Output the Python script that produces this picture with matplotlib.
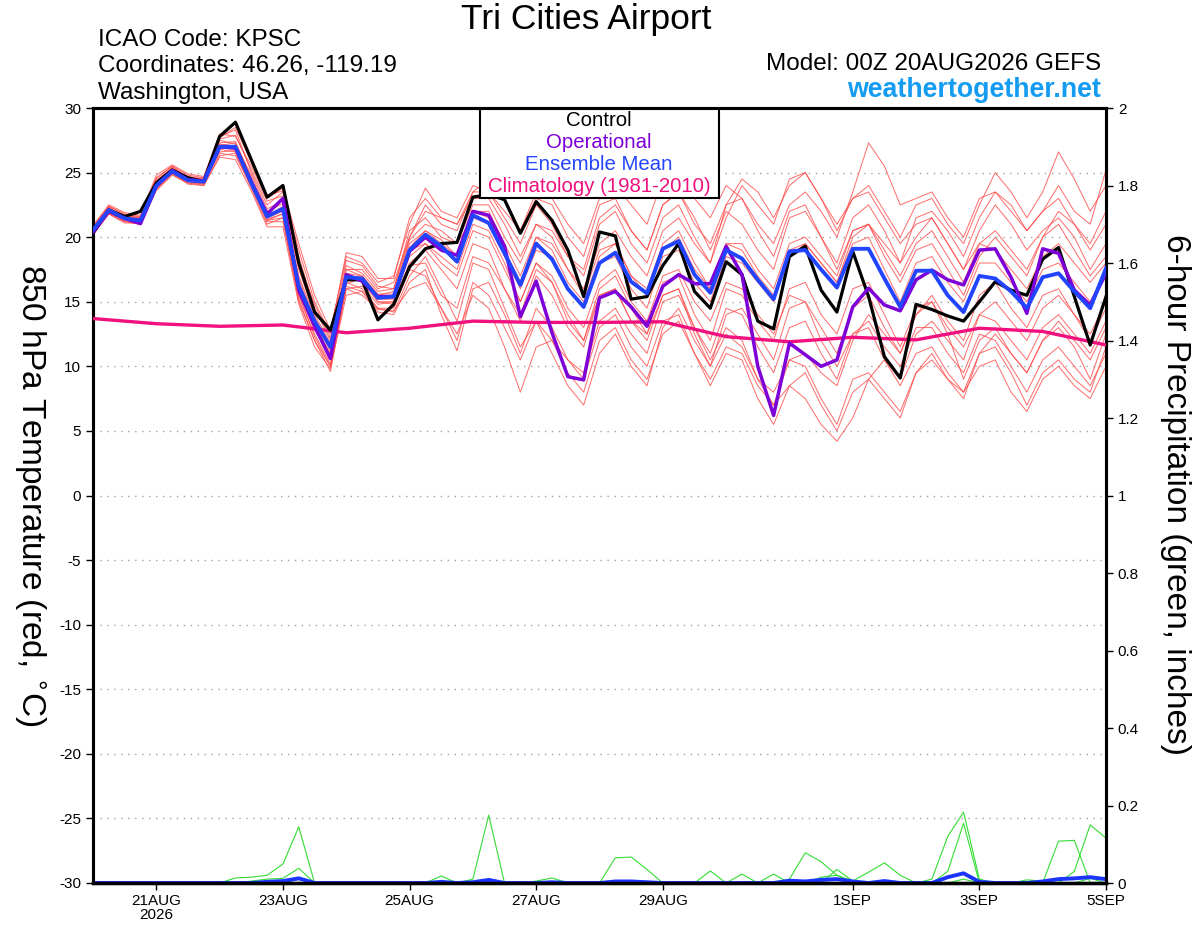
import numpy as np
import pandas as pd
import matplotlib
matplotlib.use("Agg")
import matplotlib.pyplot as plt
import matplotlib.dates as mdates
from matplotlib.patches import Rectangle

plt.rcParams['font.family'] = ['Liberation Sans', 'DejaVu Sans']

# ---------------- data ----------------
times = pd.date_range('2026-08-20 00:00', periods=65, freq='6h')
clim_times = pd.date_range('2026-08-20 00:00', periods=17, freq='1D')

control = [20.3, 22.1, 21.6, 22.0, 24.2, 25.2, 24.6, 24.3, 27.8, 28.9, 26.0, 23.1, 24.0,
           18.0, 14.2, 12.8, 16.7, 16.7, 13.6, 14.8, 17.7, 19.1, 19.5, 19.6, 23.1,
           23.3, 22.9, 20.3, 22.75, 21.3, 19.0, 15.4, 20.4, 20.1, 15.2, 15.4, 17.8,
           19.5, 15.8, 14.5, 18.1, 17.1, 13.5, 12.9, 18.5, 19.3, 15.9, 14.2, 18.9,
           15.4, 10.75, 9.1, 14.8, 14.4, 13.9, 13.5, 15.0, 16.55, 15.9, 15.5, 18.3,
           19.2, 15.4, 11.65, 15.4]

ens_mean = [20.55, 22.1, 21.45, 21.3, 24.0, 25.1, 24.4, 24.3, 27.0, 27.0, 24.2, 21.6, 22.2,
            16.2, 13.5, 11.5, 16.9, 16.8, 15.3, 15.4, 19.0, 20.2, 19.3, 18.1, 21.7,
            21.1, 18.75, 16.3, 19.5, 18.3, 16.0, 14.6, 18.0, 18.8, 16.55, 15.65, 19.1,
            19.7, 17.1, 15.7, 19.0, 18.35, 16.7, 15.2, 18.9, 19.0, 17.5, 16.1, 19.1,
            19.1, 16.8, 14.6, 17.4, 17.4, 15.5, 14.2, 17.0, 16.8, 15.8, 14.5, 16.9,
            17.2, 15.8, 14.5, 17.6]

operational = [20.4, 22.0, 21.45, 21.05, 23.95, 25.15, 24.45, 24.35, 27.0, 26.9, 24.3, 21.8, 23.0,
               15.9, 13.1, 10.6, 17.1, 16.6, 15.4, 15.4, 18.9, 20.0, 19.0, 18.6, 22.0,
               21.7, 19.3, 13.85, 16.6, 12.6, 9.2, 8.95, 15.3, 15.8, 14.6, 13.1, 16.2,
               17.1, 16.4, 16.4, 19.3, 17.1, 10.0, 6.2, 11.8, 10.9, 10.0, 10.5, 14.6,
               16.05, 14.75, 14.3, 16.7, 17.45, 16.7, 16.3, 19.0, 19.1, 16.9, 14.1, 19.1,
               18.75, 15.9, 14.75, 17.2]

climatology = [13.7, 13.3, 13.1, 13.2, 12.6, 12.95, 13.5, 13.4, 13.4, 13.45, 12.3, 11.9,
               12.25, 12.05, 12.95, 12.7, 11.65]

members = [
    [20.8, 22.4, 21.8, 21.6, 24.5, 25.5, 24.6, 24.5, 27.8, 28.3, 25.0, 22.5, 23.5,
     18.5, 14.5, 12.0, 17.5, 17.5, 16.0, 16.5, 20.0, 22.5, 21.0, 20.5, 23.5,
     24.5, 23.0, 20.5, 23.0, 22.5, 20.0, 18.5, 22.5, 23.0, 20.5, 19.0, 22.5, 23.5, 21.0, 19.5,
     22.5, 23.0, 21.0, 19.5, 22.5, 23.5, 22.0, 20.0, 23.5, 27.3, 25.5, 22.5, 23.0, 23.5, 21.5,
     20.0, 23.0, 23.5, 22.0, 20.5, 22.0, 24.0, 22.0, 21.0, 25.2],
    [20.2, 21.8, 21.2, 21.0, 23.6, 24.8, 24.2, 24.0, 26.3, 26.5, 23.8, 21.0, 21.5,
     15.0, 12.0, 10.0, 16.5, 16.0, 14.5, 14.5, 17.5, 17.0, 14.5, 12.0, 16.5,
     15.5, 13.0, 10.5, 13.5, 12.0, 9.5, 8.0, 12.0, 13.0, 10.5, 9.0, 12.5, 13.5, 11.0, 9.0,
     11.5, 11.0, 8.5, 7.0, 10.5, 10.0, 7.5, 5.5, 9.0, 9.5, 8.0, 6.5, 9.5, 10.5, 9.0,
     8.0, 11.0, 11.5, 9.5, 7.0, 9.5, 10.5, 9.0, 8.0, 11.5],
    [20.6, 22.2, 21.5, 21.4, 24.2, 25.3, 24.6, 24.4, 27.3, 27.4, 24.6, 21.8, 22.0,
     16.5, 13.0, 10.5, 17.0, 16.5, 15.0, 15.0, 19.0, 19.5, 18.5, 17.5, 21.0,
     20.5, 18.0, 15.0, 18.0, 16.5, 14.0, 12.0, 15.5, 16.0, 13.5, 12.0, 15.5, 16.0, 13.0, 10.5,
     13.0, 12.0, 9.0, 7.0, 8.5, 7.5, 5.5, 4.2, 6.0, 9.0, 10.5, 9.0, 12.5, 13.5, 12.0,
     10.5, 14.0, 15.0, 13.5, 12.0, 14.5, 15.5, 14.0, 12.5, 15.0],
    [20.9, 22.5, 21.9, 21.7, 24.8, 25.6, 24.9, 24.7, 28.0, 27.8, 25.5, 23.0, 23.8,
     19.5, 15.5, 12.8, 18.5, 18.0, 16.5, 17.0, 21.0, 23.8, 22.0, 21.5, 24.0,
     23.5, 21.5, 19.5, 22.5, 21.0, 18.5, 17.0, 21.0, 22.0, 19.5, 18.0, 21.5, 22.5, 20.0, 18.0,
     21.5, 24.0, 22.5, 21.0, 24.5, 25.0, 23.0, 21.0, 23.0, 24.0, 22.0, 20.0, 22.5, 23.0, 21.0,
     19.5, 22.5, 25.0, 23.5, 21.5, 23.5, 26.6, 24.5, 22.0, 24.0],
    [20.4, 21.9, 21.3, 21.1, 23.8, 25.0, 24.3, 24.1, 26.8, 26.6, 24.0, 21.3, 21.8,
     15.5, 12.5, 10.2, 16.0, 16.2, 14.8, 15.0, 18.0, 19.0, 17.5, 16.0, 19.5,
     19.0, 16.0, 13.5, 17.0, 15.5, 13.0, 11.5, 15.5, 16.0, 13.5, 12.5, 16.5, 17.0, 14.0, 12.0,
     16.0, 15.5, 13.5, 12.0, 16.0, 16.5, 14.0, 12.5, 16.0, 16.5, 14.0, 11.5, 14.5, 15.0, 13.0,
     11.5, 14.0, 13.5, 12.0, 10.5, 13.0, 14.0, 12.5, 11.0, 13.5],
    [20.7, 22.3, 21.6, 21.5, 24.3, 25.4, 24.5, 24.6, 27.5, 27.2, 24.8, 22.2, 22.8,
     17.5, 14.0, 11.8, 17.8, 17.2, 15.8, 16.0, 20.5, 21.5, 20.0, 19.5, 22.5,
     22.5, 20.0, 18.0, 21.0, 20.5, 18.5, 17.5, 21.5, 22.5, 20.5, 19.0, 22.5, 23.5, 21.5, 19.0,
     22.0, 21.0, 19.0, 17.5, 21.5, 22.0, 20.0, 18.0, 21.5, 22.5, 20.5, 18.0, 20.0, 21.5, 19.5,
     17.5, 20.5, 22.5, 21.0, 19.0, 20.5, 21.5, 20.0, 17.5, 19.5],
    [20.3, 22.0, 21.4, 21.2, 23.9, 25.0, 24.4, 24.2, 26.5, 26.3, 23.9, 21.2, 21.2,
     15.2, 12.0, 9.6, 16.2, 15.8, 14.5, 14.2, 17.0, 18.5, 16.0, 13.5, 18.0,
     17.5, 14.5, 11.5, 13.5, 11.0, 8.5, 7.0, 11.0, 12.5, 10.0, 8.5, 13.0, 14.5, 12.0, 10.0,
     14.0, 14.5, 12.5, 10.5, 14.5, 15.0, 13.0, 11.0, 14.5, 15.5, 13.0, 11.0, 14.0, 15.0, 12.5,
     9.0, 12.0, 13.0, 11.0, 9.5, 12.0, 13.0, 11.5, 9.0, 12.5],
    [20.5, 22.1, 21.5, 21.3, 24.1, 25.2, 24.4, 24.3, 27.2, 27.0, 24.3, 21.7, 22.3,
     16.8, 13.5, 11.2, 17.2, 17.0, 15.5, 15.8, 19.5, 20.5, 19.5, 18.5, 22.0,
     21.5, 19.0, 16.5, 20.0, 19.5, 17.5, 16.0, 19.5, 20.5, 18.5, 17.0, 20.5, 21.5, 19.5, 18.0,
     22.5, 24.5, 23.5, 21.5, 24.0, 25.0, 23.0, 20.5, 23.0, 23.5, 21.5, 19.5, 21.0, 21.5, 19.5,
     17.5, 19.5, 19.0, 17.5, 16.0, 18.5, 19.5, 18.0, 16.5, 18.0],
    [20.6, 22.0, 21.3, 21.2, 24.0, 25.1, 24.5, 24.4, 27.0, 27.1, 24.2, 21.5, 22.0,
     16.0, 13.2, 11.0, 16.8, 16.6, 15.2, 15.2, 18.5, 19.5, 18.0, 17.0, 20.5,
     20.0, 17.5, 15.0, 18.0, 17.0, 14.5, 13.0, 16.5, 17.5, 15.0, 13.5, 17.0, 17.5, 15.0, 13.5,
     16.5, 16.0, 14.0, 12.5, 15.5, 15.0, 12.0, 10.0, 12.5, 13.0, 10.5, 8.5, 11.0, 11.5, 9.5,
     8.0, 10.0, 10.5, 8.0, 6.5, 9.0, 10.0, 8.5, 7.5, 10.0],
    [20.4, 22.2, 21.7, 21.5, 24.4, 25.3, 24.7, 24.5, 27.6, 27.9, 25.2, 22.8, 23.2,
     18.0, 14.8, 12.2, 18.2, 17.8, 16.2, 16.0, 20.0, 22.0, 21.5, 21.0, 23.0,
     23.0, 21.0, 18.5, 21.0, 20.0, 17.5, 15.5, 19.0, 19.5, 17.0, 15.5, 19.0, 20.0, 17.5, 16.0,
     19.5, 19.5, 17.5, 16.0, 19.5, 20.0, 18.5, 17.0, 20.5, 21.0, 19.0, 17.0, 19.5, 20.5, 18.5,
     16.5, 19.5, 20.5, 19.0, 17.5, 20.0, 21.0, 19.0, 17.0, 18.5],
    [20.8, 22.3, 21.4, 21.3, 24.2, 25.0, 24.2, 24.1, 26.9, 26.8, 24.0, 21.4, 21.8,
     15.8, 12.8, 10.8, 16.4, 16.8, 15.0, 14.8, 17.8, 18.0, 15.5, 14.5, 18.5,
     18.0, 16.0, 14.0, 17.5, 16.5, 13.5, 12.0, 16.0, 17.0, 14.5, 12.5, 15.5, 16.0, 12.5, 10.0,
     12.5, 11.5, 9.0, 8.0, 10.5, 11.0, 9.5, 8.5, 12.0, 14.0, 12.5, 11.0, 14.0, 15.5, 13.5,
     12.0, 15.5, 16.5, 14.5, 13.0, 15.5, 16.0, 14.0, 12.0, 14.5],
    [20.5, 22.0, 21.6, 21.4, 24.2, 25.2, 24.3, 24.2, 27.1, 27.3, 24.5, 22.0, 22.6,
     17.0, 13.8, 11.5, 17.5, 17.0, 15.6, 15.6, 19.8, 21.0, 20.5, 19.5, 21.5,
     21.0, 18.5, 16.0, 19.0, 18.5, 16.0, 14.5, 18.0, 18.5, 16.0, 14.5, 18.5, 19.0, 16.5, 15.0,
     18.5, 18.0, 16.5, 15.0, 18.5, 19.5, 18.0, 16.5, 20.0, 21.0, 19.5, 18.0, 21.5, 22.0, 20.5,
     18.5, 21.5, 23.5, 22.5, 20.5, 22.0, 23.0, 21.0, 19.0, 21.0],
    [20.2, 21.9, 21.2, 21.0, 23.7, 24.9, 24.1, 24.0, 26.2, 26.0, 23.6, 20.8, 20.8,
     14.8, 11.5, 9.8, 15.5, 15.8, 14.2, 14.0, 16.5, 17.5, 14.0, 11.2, 16.0,
     16.5, 14.0, 11.0, 14.5, 13.0, 10.5, 9.0, 13.0, 14.0, 11.5, 10.0, 13.5, 14.0, 11.0, 8.5,
     11.0, 10.5, 7.5, 5.5, 8.5, 9.5, 7.0, 5.0, 8.0, 9.0, 7.5, 6.0, 9.5, 11.0, 9.0,
     7.5, 11.0, 12.5, 11.0, 9.5, 12.0, 13.5, 12.0, 10.5, 13.0],
    [20.6, 22.2, 21.5, 21.4, 24.1, 25.1, 24.5, 24.3, 26.9, 27.0, 24.1, 21.6, 22.4,
     16.5, 13.5, 11.4, 16.9, 16.9, 15.3, 15.5, 19.2, 20.5, 19.8, 18.5, 22.0,
     22.0, 19.5, 17.0, 20.0, 19.0, 16.5, 15.0, 18.5, 19.5, 17.0, 16.0, 19.5, 20.5, 18.0, 16.0,
     19.5, 19.0, 17.0, 15.5, 19.0, 19.5, 18.0, 16.5, 19.5, 20.0, 17.5, 15.0, 18.0, 18.5, 16.5,
     15.0, 18.0, 18.0, 16.5, 15.0, 17.5, 18.0, 16.5, 15.0, 17.5],
    [20.7, 22.4, 21.7, 21.6, 24.6, 25.5, 24.8, 24.6, 27.7, 28.5, 25.8, 23.2, 23.6,
     19.0, 15.0, 12.5, 18.8, 18.5, 16.8, 16.8, 21.5, 23.0, 21.5, 21.0, 23.5,
     23.5, 22.0, 20.5, 23.5, 23.0, 21.0, 19.5, 23.0, 24.0, 22.5, 21.0, 24.5, 25.0, 23.0, 21.5,
     24.0, 23.0, 20.5, 18.5, 22.0, 22.5, 20.0, 17.5, 20.5, 21.0, 18.5, 16.5, 19.0, 19.5, 17.5,
     15.5, 18.5, 20.0, 18.5, 17.0, 20.0, 22.0, 21.0, 19.5, 22.0],
    [20.3, 21.8, 21.1, 21.1, 23.8, 24.9, 24.3, 24.2, 26.6, 26.7, 24.1, 21.3, 21.5,
     15.5, 12.3, 10.0, 16.0, 15.5, 14.4, 14.3, 16.0, 16.5, 14.5, 12.5, 15.5,
     14.5, 11.5, 8.0, 11.5, 12.0, 10.5, 9.5, 13.5, 14.5, 12.5, 11.0, 15.0, 15.5, 13.0, 11.0,
     14.5, 14.0, 11.5, 9.5, 13.0, 13.5, 11.0, 9.0, 12.5, 13.5, 11.5, 10.0, 13.0, 13.0, 11.0,
     9.5, 12.5, 12.0, 10.0, 8.0, 10.5, 11.5, 10.0, 8.5, 11.0],
]

# 6-hour precipitation (inches), members (green)
precip_members = [
    [0, 0, 0, 0, 0, 0, 0, 0, 0, 0.013, 0.015, 0.02, 0.049, 0.145, 0, 0, 0, 0, 0, 0,
     0, 0, 0, 0, 0.01, 0.175, 0, 0, 0, 0, 0, 0, 0, 0, 0, 0, 0, 0, 0, 0,
     0, 0, 0, 0, 0, 0, 0, 0, 0, 0, 0, 0, 0, 0, 0, 0, 0, 0, 0, 0, 0, 0, 0, 0, 0],
    [0, 0, 0, 0, 0, 0, 0, 0, 0, 0, 0.005, 0.01, 0.012, 0.038, 0, 0, 0, 0, 0, 0,
     0, 0, 0.018, 0, 0, 0, 0, 0, 0.005, 0.013, 0, 0, 0, 0, 0, 0, 0, 0, 0, 0,
     0, 0, 0, 0, 0, 0, 0, 0, 0, 0, 0, 0, 0, 0, 0, 0, 0, 0, 0, 0, 0, 0, 0, 0, 0],
    [0, 0, 0, 0, 0, 0, 0, 0, 0, 0, 0, 0, 0, 0, 0, 0, 0, 0, 0, 0,
     0, 0, 0, 0, 0, 0, 0, 0, 0, 0, 0, 0, 0, 0.065, 0.067, 0.035, 0, 0, 0, 0,
     0, 0, 0, 0, 0.01, 0.078, 0.055, 0.02, 0, 0, 0, 0, 0, 0, 0, 0, 0, 0, 0, 0, 0, 0, 0, 0, 0],
    [0, 0, 0, 0, 0, 0, 0, 0, 0, 0, 0, 0, 0, 0, 0, 0, 0, 0, 0, 0,
     0, 0, 0, 0, 0, 0, 0, 0, 0, 0, 0, 0, 0, 0, 0, 0, 0, 0, 0, 0.031,
     0, 0.023, 0, 0.023, 0, 0, 0, 0.035, 0.005, 0.028, 0.052, 0.02, 0, 0, 0, 0, 0, 0, 0, 0, 0, 0, 0, 0, 0],
    [0, 0, 0, 0, 0, 0, 0, 0, 0, 0, 0, 0, 0, 0, 0, 0, 0, 0, 0, 0,
     0, 0, 0, 0, 0, 0, 0, 0, 0, 0, 0, 0, 0, 0, 0, 0, 0, 0, 0, 0,
     0, 0, 0, 0, 0, 0, 0, 0, 0, 0, 0, 0, 0, 0.01, 0.12, 0.183, 0.01, 0, 0, 0, 0, 0.108, 0.11, 0, 0],
    [0, 0, 0, 0, 0, 0, 0, 0, 0, 0, 0, 0, 0, 0, 0, 0, 0, 0, 0, 0,
     0, 0, 0, 0, 0, 0, 0, 0, 0, 0, 0, 0, 0, 0, 0, 0, 0, 0, 0, 0,
     0, 0, 0, 0, 0, 0, 0, 0, 0, 0, 0, 0, 0, 0, 0.03, 0.154, 0, 0, 0, 0, 0, 0, 0.03, 0.15, 0.116],
    [0, 0, 0, 0, 0, 0, 0, 0, 0, 0, 0, 0, 0, 0.01, 0, 0, 0, 0, 0, 0,
     0, 0, 0, 0, 0, 0.008, 0, 0, 0, 0, 0, 0, 0, 0, 0, 0, 0, 0, 0, 0,
     0, 0, 0, 0, 0, 0, 0.015, 0.02, 0.005, 0, 0, 0, 0, 0, 0, 0.01, 0, 0, 0, 0.008, 0.005, 0, 0, 0.012, 0],
]

mean_precip = [0, 0, 0, 0, 0, 0, 0, 0, 0, 0, 0, 0.003, 0.005, 0.012, 0, 0, 0, 0, 0, 0,
               0, 0, 0.003, 0, 0.002, 0.008, 0, 0, 0, 0.002, 0, 0, 0, 0.004, 0.004, 0.002, 0, 0, 0, 0,
               0, 0, 0, 0, 0.006, 0.004, 0.008, 0.01, 0.004, 0, 0.005, 0, 0, 0, 0.015, 0.025, 0.003,
               0, 0, 0, 0.004, 0.01, 0.012, 0.015, 0.01]

control_precip = [0, 0, 0, 0, 0, 0, 0, 0, 0, 0, 0, 0, 0, 0, 0, 0, 0, 0, 0, 0,
                  0, 0, 0, 0, 0, 0, 0, 0, 0, 0, 0, 0, 0, 0, 0, 0, 0, 0, 0, 0,
                  0, 0, 0, 0, 0, 0, 0, 0, 0, 0, 0, 0, 0, 0, 0, 0, 0, 0, 0, 0, 0, 0, 0, 0, 0]

left_ticks = [-30, -25, -20, -15, -10, -5, 0, 5, 10, 15, 20, 25, 30]
right_ticks = [0, 0.2, 0.4, 0.6, 0.8, 1.0, 1.2, 1.4, 1.6, 1.8, 2.0]
date_ticks = ['2026-08-21', '2026-08-23', '2026-08-25', '2026-08-27', '2026-08-29',
              '2026-09-01', '2026-09-03', '2026-09-05']
date_labels = ['21AUG\n2026', '23AUG', '25AUG', '27AUG', '29AUG', '1SEP', '3SEP', '5SEP']

# ---------------- figure ----------------
fig = plt.figure(figsize=(12, 9.27), dpi=100)
ax = fig.add_axes([93/1200, 1-883/927, (1106-93)/1200, (883-108)/927])
ax2 = ax.twinx()

ax.set_xlim(times[0], times[-1])
ax.set_ylim(-30, 30)
ax2.set_ylim(0, 2)

for y in left_ticks[1:-1]:
    ax.axhline(y, color='#a0a0a0', lw=1.0, ls=(0, (1, 4)), zorder=0)

for m in members:
    ax.plot(times, m, color='#ff4545', lw=0.7, alpha=0.8, zorder=2)

ax.plot(clim_times, climatology, color='#f0107e', lw=2.4, zorder=4)
ax.plot(times, control, color='black', lw=2.3, zorder=5)
ax.plot(times, operational, color='#7d00d8', lw=2.5, zorder=6)
ax.plot(times, ens_mean, color='#2244ff', lw=2.8, zorder=7)

for p in precip_members:
    ax2.plot(times, p, color='#33dd33', lw=0.8, zorder=2)
ax2.plot(times, mean_precip, color='#1a33ff', lw=2.8, zorder=3)
ax2.plot(times, control_precip, color='black', lw=2.5, zorder=4, clip_on=False)

ax.set_zorder(ax2.get_zorder() + 1)
ax.patch.set_visible(False)

ax.set_yticks(left_ticks)
ax.set_yticklabels([str(t) for t in left_ticks])
ax2.set_yticks(right_ticks)
ax2.set_yticklabels(['%g' % t for t in right_ticks])
ax.set_xticks([pd.Timestamp(d) for d in date_ticks])
ax.set_xticklabels(date_labels)

ax.tick_params(axis='both', labelsize=11, length=5, width=1, direction='out', colors='black')
ax.tick_params(axis='x', pad=3)
ax2.tick_params(axis='y', labelsize=11, length=5, width=1, direction='out')
for lab in ax.get_xticklabels():
    lab.set_linespacing(1.0)

for a in (ax, ax2):
    for s in a.spines.values():
        s.set_linewidth(2.2)

# axis titles (read top to bottom, as in the reference)
fig.text(30/1200, 1-495/927, '850 hPa Temperature (red, $^{\\circ}$C)', fontsize=24,
         rotation=270, ha='center', va='center')
fig.text(1175/1200, 1-495/927, '6-hour Precipitation (green, inches)', fontsize=24,
         rotation=270, ha='center', va='center')

# header texts
fig.text(586/1200, 1-19/927, 'Tri Cities Airport', fontsize=25.5, ha='center', va='center')
fig.text(98/1200, 1-40/927, 'ICAO Code: KPSC', fontsize=17.5, ha='left', va='center')
fig.text(98/1200, 1-66/927, 'Coordinates: 46.26, -119.19', fontsize=17.5, ha='left', va='center')
fig.text(98/1200, 1-93/927, 'Washington, USA', fontsize=17.5, ha='left', va='center')
fig.text(1101/1200, 1-64/927, 'Model: 00Z 20AUG2026 GEFS', fontsize=17.5, ha='right', va='center')
fig.text(1101/1200, 1-90/927, 'weathertogether.net', fontsize=19.3, ha='right', va='center',
         color='#139cf2', fontweight='bold')

# legend box
fig.patches.append(Rectangle((480/1200, 1-198/927), (719-480)/1200, (198-109)/927,
                             transform=fig.transFigure, facecolor='white',
                             edgecolor='black', lw=1.5, zorder=10))
legend_items = [('Control', 'black', 121), ('Operational', '#7d00d8', 142),
                ('Ensemble Mean', '#2244ff', 164), ('Climatology (1981-2010)', '#f0107e', 186)]
for txt, col, yy in legend_items:
    fig.text(599/1200, 1-yy/927, txt, fontsize=14.7, color=col, ha='center', va='center', zorder=11)

fig.savefig('out.png', dpi=100)
